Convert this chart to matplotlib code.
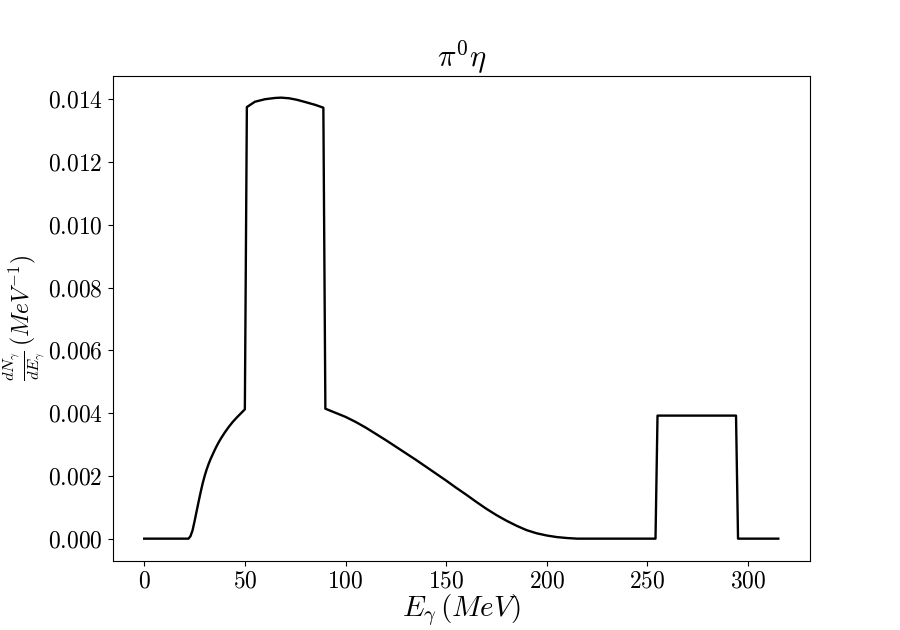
#!/usr/bin/env python3
"""
Photon spectrum dN/dE for the pi0 eta channel
"""

import matplotlib
matplotlib.use('Agg')
import matplotlib.pyplot as plt

plt.rcParams['font.family'] = 'serif'
plt.rcParams['font.serif'] = ['cmr10', 'DejaVu Serif']
plt.rcParams['mathtext.fontset'] = 'cm'
plt.rcParams['axes.formatter.use_mathtext'] = True
plt.rcParams['axes.unicode_minus'] = False

# Photon energy (MeV)
energy = [0, 22, 23, 24, 25, 26, 27, 28, 29, 30, 31, 32, 33, 34, 35, 36,
          37, 38, 39, 40, 42, 44, 46, 48, 50,
          51, 55, 60, 65, 68, 72, 76, 80, 85, 89,
          90, 95, 100, 105, 110, 115, 120, 125, 130, 135, 140, 145, 150,
          155, 160, 165, 170, 175, 180, 185, 190, 195, 200, 205, 210, 215,
          254, 255, 294, 295, 315]

# dN_gamma/dE_gamma (MeV^-1)
spectrum = [0.0, 0.0, 0.00008, 0.00026, 0.00055, 0.00086, 0.00117, 0.00147,
            0.00175, 0.00199, 0.00220, 0.00238, 0.00254, 0.00268, 0.00282,
            0.00295, 0.00307, 0.00318, 0.00328, 0.00338, 0.00356, 0.00372,
            0.00386, 0.00399, 0.00412,
            0.01375, 0.01392, 0.01400, 0.01404, 0.01405, 0.01403, 0.01398,
            0.01391, 0.01382, 0.01373,
            0.00414, 0.00401, 0.00388, 0.00372, 0.00354, 0.00334, 0.00314,
            0.00293, 0.00272, 0.00251, 0.00229, 0.00207, 0.00185, 0.00162,
            0.00140, 0.00117, 0.00095, 0.00075, 0.00057, 0.00041, 0.00027,
            0.00017, 0.00010, 0.00005, 0.00002, 0.0,
            0.0, 0.00392, 0.00392, 0.0, 0.0]

fig, ax = plt.subplots(figsize=(9, 6.3), dpi=100)

ax.plot(energy, spectrum, color='black', linewidth=1.7)

ax.set_title(r'$\pi^0\eta$', fontsize=22)
ax.set_xlabel(r'$E_{\gamma}\,(MeV)$', fontsize=21, labelpad=0)
ax.set_ylabel(r'$\frac{dN_{\gamma}}{dE_{\gamma}}\,(MeV^{-1})$', fontsize=17)
ax.yaxis.set_label_coords(-0.094, 0.5)
ax.tick_params(labelsize=17)

plt.savefig('out.png', dpi=100)
